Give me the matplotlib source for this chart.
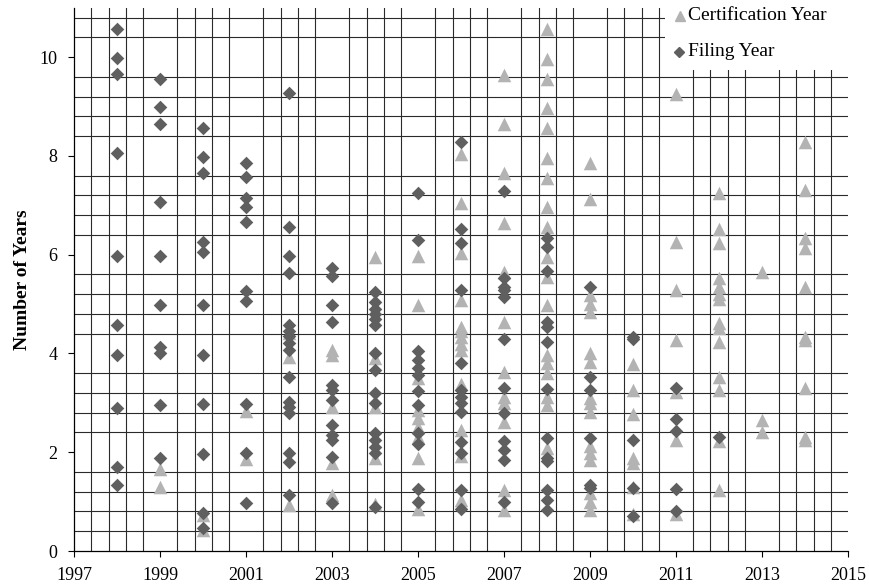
import matplotlib
matplotlib.use("Agg")
import matplotlib.pyplot as plt
from matplotlib.lines import Line2D
from matplotlib.patches import Rectangle
import numpy as np

plt.rcParams['font.family'] = ['Liberation Serif', 'DejaVu Serif']

years = list(range(1998, 2015))

# number of years per point, grouped by year (diamonds)
filing = [
    [10.57, 9.99, 9.66, 8.06, 5.98, 4.57, 3.97, 2.89, 1.71, 1.34],           # 1998
    [9.56, 8.98, 8.65, 7.06, 5.98, 4.98, 4.14, 4.0, 2.96, 1.89],             # 1999
    [8.57, 7.98, 7.66, 6.26, 6.06, 4.98, 3.97, 2.98, 1.96, 0.76, 0.46],      # 2000
    [7.85, 7.58, 7.14, 6.97, 6.67, 5.26, 5.07, 2.98, 1.99, 0.97],            # 2001
    [9.27, 6.56, 5.97, 5.63, 4.57, 4.45, 4.35, 4.22, 4.07, 3.53, 3.02,
     2.92, 2.79, 1.98, 1.81, 1.13],                                          # 2002
    [5.72, 5.57, 4.98, 4.64, 3.36, 3.26, 3.06, 2.55, 2.35, 2.25, 1.91, 0.97],  # 2003
    [5.25, 5.05, 4.9, 4.8, 4.7, 4.57, 4.0, 3.66, 3.19, 2.99, 2.38, 2.25,
     2.11, 1.98, 0.90],                                                      # 2004
    [7.25, 6.30, 4.04, 3.87, 3.70, 3.56, 3.23, 2.96, 2.38, 2.17, 1.25, 1.0],  # 2005
    [8.29, 6.51, 6.24, 5.28, 3.80, 3.26, 3.12, 2.99, 2.82, 2.21, 1.98,
     1.23, 0.86],                                                            # 2006
    [7.29, 5.52, 5.35, 5.28, 5.15, 4.30, 3.29, 2.80, 2.23, 2.04, 1.84, 0.99],  # 2007
    [6.33, 6.16, 5.67, 4.64, 4.54, 4.24, 3.27, 2.28, 1.88, 1.83, 1.23,
     1.03, 0.83],                                                            # 2008
    [5.34, 3.53, 3.26, 2.28, 1.34, 1.28],                                    # 2009
    [4.34, 4.30, 2.25, 1.27, 0.71],                                          # 2010
    [3.31, 2.67, 2.42, 1.25, 0.80],                                          # 2011
    [2.31],                                                                  # 2012
    [],                                                                      # 2013
    [],                                                                      # 2014
]

# triangles
certification = [
    [],                                                                      # 1998
    [1.67, 1.30],                                                            # 1999
    [0.72, 0.42],                                                            # 2000
    [2.84, 1.86],                                                            # 2001
    [4.42, 3.93, 0.93],                                                      # 2002
    [4.07, 3.97, 2.92, 1.79, 1.13],                                          # 2003
    [5.96, 3.90, 2.92, 1.88, 0.95],                                          # 2004
    [5.97, 4.98, 3.50, 2.85, 2.69, 2.52, 2.31, 1.88, 0.86],                  # 2005
    [8.04, 7.05, 6.03, 5.08, 4.54, 4.45, 4.34, 4.2, 4.06, 3.39, 2.45,
     1.92, 1.03],                                                            # 2006
    [9.64, 8.64, 7.65, 6.65, 5.65, 4.64, 3.63, 3.12, 3.0, 2.62, 1.23, 0.83],  # 2007
    [10.56, 9.95, 9.55, 8.96, 8.56, 7.96, 7.56, 6.97, 6.56, 5.96, 5.55,
     4.98, 3.97, 3.80, 3.60, 3.12, 2.96, 2.08],                              # 2008
    [7.85, 7.12, 5.18, 5.01, 4.84, 4.0, 3.83, 3.09, 3.0, 2.82, 2.12,
     1.98, 1.85, 1.17, 1.0, 0.83],                                           # 2009
    [3.79, 3.26, 2.77, 1.88, 1.78, 1.30, 0.75],                              # 2010
    [9.25, 6.26, 5.28, 4.27, 3.22, 2.25, 0.75],                              # 2011
    [7.25, 6.51, 6.24, 5.52, 5.35, 5.2, 5.1, 4.61, 4.52, 4.24, 3.52,
     3.26, 2.22, 1.23],                                                      # 2012
    [5.65, 2.65, 2.40],                                                      # 2013
    [8.29, 7.31, 6.33, 6.13, 5.35, 4.34, 4.27, 3.29, 2.31, 2.25],            # 2014
]

tri_color = '#b3b3b3'
dia_color = '#5f5f5f'

cx = [y for y, vals in zip(years, certification) for _ in vals]
cy = [v for vals in certification for v in vals]
fx = [y for y, vals in zip(years, filing) for _ in vals]
fy = [v for vals in filing for v in vals]

fig = plt.figure(figsize=(8.7, 5.87), dpi=100)
ax = fig.add_axes([0.0854, 0.0613, 0.8893, 0.9257])

ax.scatter(cx, cy, marker='^', s=95, color=tri_color, linewidths=0, zorder=3)
ax.scatter(fx, fy, marker='D', s=48, color=dia_color, linewidths=0, zorder=4)

ax.set_xlim(1997, 2015)
ax.set_ylim(0, 11)
ax.set_xticks(range(1997, 2016, 2))
ax.set_yticks(range(0, 11, 2))
ax.set_xticks(np.round(np.arange(1997, 2015.01, 0.4), 2), minor=True)
ax.set_yticks(np.round(np.arange(0, 10.81, 0.4), 2), minor=True)
ax.grid(which='minor', color='#2a2a2a', linewidth=0.8)
ax.set_axisbelow(True)
ax.tick_params(which='minor', length=0)
ax.tick_params(which='major', length=4.3, width=0.8, labelsize=13)
ax.tick_params(axis='x', which='major', pad=7)
ax.tick_params(axis='y', which='major', pad=7.8)

ax.spines['top'].set_visible(False)
ax.spines['right'].set_visible(False)
ax.spines['left'].set_linewidth(0.9)
ax.spines['bottom'].set_linewidth(0.9)

ax.set_ylabel('Number of Years', fontsize=14, fontweight='bold')
ax.yaxis.set_label_coords(-0.056, 0.5)

# legend box (white, covers grid in the top right corner)
fig.patches.append(Rectangle((0.7644, 0.8807), 0.2356, 0.1193, transform=fig.transFigure,
                             facecolor='white', edgecolor='none', zorder=2))
fig.add_artist(Line2D([680 / 870], [1 - 16 / 587], transform=fig.transFigure, marker='^',
                      markersize=7.2, color=tri_color, linestyle='none', zorder=3))
fig.add_artist(Line2D([679 / 870], [1 - 52 / 587], transform=fig.transFigure, marker='D',
                      markersize=5.4, color=dia_color, linestyle='none', zorder=3))
fig.text(688 / 870, 1 - 16 / 587, 'Certification Year', fontsize=14, va='center', zorder=3)
fig.text(688 / 870, 1 - 52 / 587, 'Filing Year', fontsize=14, va='center', zorder=3)

fig.savefig('out.png', dpi=100)
